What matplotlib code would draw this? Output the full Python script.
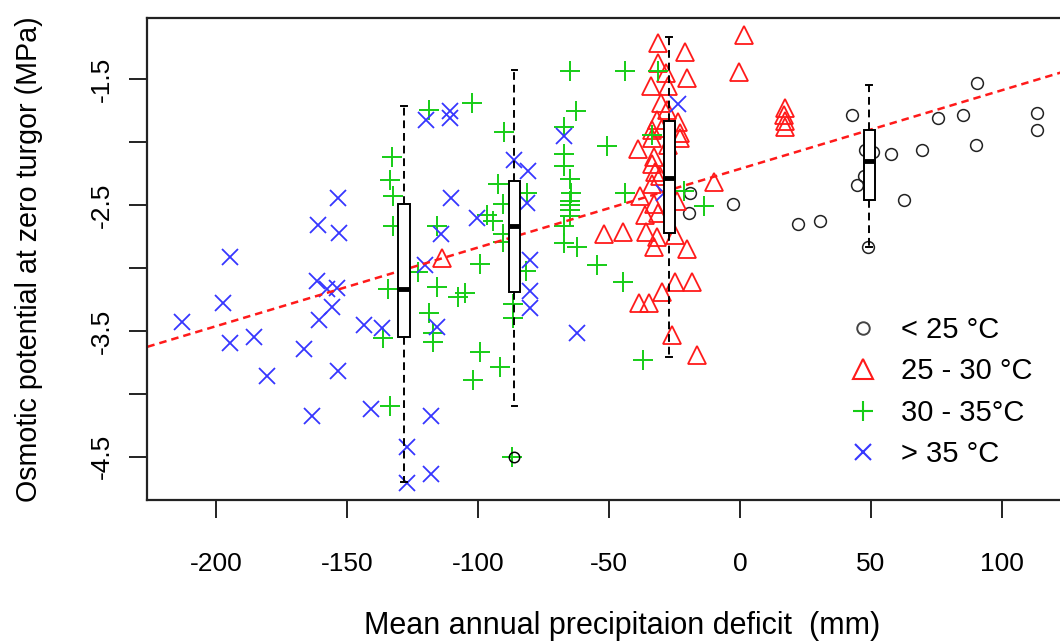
import matplotlib.pyplot as plt
from matplotlib.lines import Line2D

plt.rcParams['font.family'] = ['Liberation Sans', 'DejaVu Sans']

# < 25 °C
cool_x = [-19.0, -19.4, -2.6, 42.7, 75.8, 85.1, 90.7, 113.4, 113.4, 90.2,
          69.5, 57.6, 50.9, 44.7, 62.5, 30.6, 22.1, 48.9, 47.6, 47.4]
cool_y = [-2.40, -2.56, -2.49, -1.78, -1.81, -1.78, -1.53, -1.77, -1.90, -2.02,
          -2.06, -2.09, -2.08, -2.34, -2.46, -2.63, -2.65, -2.83, -2.06, -2.27]

# 25 - 30 °C
warm_x = [-31.1, -20.9, 1.6, -0.2, -31.1, -28.2, -20.3, -33.8, -27.3, -27.9,
          -31.7, -23.5, -33.7, -29.8, -22.8, -33.7, -22.8, -38.8, -33.0, -33.7,
          -32.4, -30.5, -33.5, -9.9, -38.1, -33.0, -24.1, -31.1, -51.9, -44.5,
          -36.0, -31.7, -24.8, -32.8, -20.3, -24.8, -18.4, -29.8, -38.5, -34.8,
          -26.0, -16.5, -113.9, 17.3, 16.7, 17.3, 17.3, -30.1, -27.4, -36.2]
warm_y = [-1.21, -1.28, -1.15, -1.44, -1.37, -1.45, -1.49, -1.55, -1.55, -1.74,
          -1.82, -1.84, -1.90, -1.89, -1.93, -1.97, -1.97, -2.05, -2.12, -2.17,
          -2.24, -2.27, -2.33, -2.32, -2.43, -2.49, -2.47, -2.56, -2.73, -2.71,
          -2.71, -2.75, -2.74, -2.83, -2.85, -3.11, -3.11, -3.19, -3.28, -3.28,
          -3.53, -3.69, -2.92, -1.73, -1.78, -1.83, -1.88, -1.69, -2.02, -2.58]

# 30 - 35 °C
hot_x = [-118.6, -132.7, -133.6, -132.6, -132.5, -115.8, -122.8, -115.8, -134.5, -107.5,
         -118.6, -136.4, -117.1, -117.1, -133.6, -102.3, -90.0, -64.9, -43.7, -31.4,
         -62.6, -67.2, -50.8, -33.7, -67.2, -67.2, -64.9, -64.5, -64.9, -64.9,
         -64.9, -64.9, -67.3, -67.2, -62.4, -43.9, -92.3, -81.5, -90.3, -96.7,
         -94.3, -90.6, -90.4, -21.3, -13.9, -99.4, -81.6, -54.4, -44.6, -105.0,
         -86.6, -86.6, -99.2, -91.6, -101.8, -36.9, -87.1]
hot_y = [-1.74, -2.12, -2.30, -2.43, -2.67, -2.67, -3.03, -3.15, -3.17, -3.23,
         -3.36, -3.56, -3.52, -3.59, -4.10, -1.69, -1.92, -1.43, -1.43, -1.43,
         -1.75, -1.88, -2.03, -1.94, -2.09, -2.19, -2.29, -2.40, -2.47, -2.50,
         -2.54, -2.59, -2.67, -2.80, -2.83, -2.40, -2.33, -2.40, -2.49, -2.58,
         -2.63, -2.73, -2.79, -2.39, -2.51, -2.97, -3.02, -2.98, -3.11, -3.20,
         -3.29, -3.40, -3.67, -3.79, -3.89, -3.73, -4.50]

# > 35 °C
hottest_x = [-119.9, -110.7, -110.7, -110.4, -153.6, -161.2, -153.0, -114.1, -194.7, -197.5,
             -212.9, -194.7, -185.6, -180.7, -161.6, -157.8, -154.0, -155.9, -160.7, -166.4,
             -153.6, -163.5, -143.5, -136.6, -141.0, -120.2, -115.8, -118.0, -118.0, -127.2,
             -127.2, -86.4, -81.1, -81.2, -100.5, -67.3, -23.5, -29.0, -80.1, -80.1,
             -80.1, -62.3]
hottest_y = [-1.82, -1.75, -1.81, -2.44, -2.44, -2.66, -2.72, -2.73, -2.91, -3.28,
             -3.43, -3.60, -3.55, -3.86, -3.10, -3.17, -3.16, -3.31, -3.41, -3.64,
             -3.82, -4.18, -3.45, -3.48, -4.12, -2.98, -3.47, -4.18, -4.64, -4.42,
             -4.71, -2.14, -2.23, -2.48, -2.60, -1.95, -1.70, -2.40, -2.94, -3.18,
             -3.32, -3.52]

group_labels = ['< 25 °C', '25 - 30 °C', '30 - 35°C', '> 35 °C']

# box summaries of each group, same order as group_labels
box_pos = [49.4, -27.0, -86.1, -128.3]
box_whislo = [-2.83, -3.71, -4.10, -4.70]
box_q1 = [-2.46, -2.72, -3.19, -3.55]
box_med = [-2.15, -2.285, -2.67, -3.17]
box_q3 = [-1.90, -1.83, -2.31, -2.49]
box_whishi = [-1.545, -1.166, -1.426, -1.712]
box_fliers = [[], [], [-4.5], []]

# linear fit drawn across the whole plot
fit_intercept = -2.212
fit_slope = 0.00625

x_ticks = [-200, -150, -100, -50, 0, 50, 100]
x_tick_labels = ['-200', '-150', '-100', '-50', '0', '50', '100']
y_ticks = [-1.5, -2.0, -2.5, -3.0, -3.5, -4.0, -4.5]
y_tick_labels = ['-1.5', '', '-2.5', '', '-3.5', '', '-4.5']

red = '#ff1a1a'
green = '#16cc16'
blue = '#3636ff'

fig = plt.figure(figsize=(10.6, 6.42), dpi=100)
ax = fig.add_axes([0.139, 0.2212, 0.896, 0.7503])

ax.plot(cool_x, cool_y, ls='none', marker='o', mfc='none', mec='#222222', ms=8.5, mew=1.1, zorder=2)
ax.plot(warm_x, warm_y, ls='none', marker='^', mfc='none', mec=red, ms=12.5, mew=1.3, zorder=2)
ax.plot(hot_x, hot_y, ls='none', marker='+', mec=green, ms=14, mew=1.4, zorder=2)
ax.plot(hottest_x, hottest_y, ls='none', marker='x', mec=blue, ms=11, mew=1.3, zorder=2)

ax.axline((0, fit_intercept), slope=fit_slope, color=red, lw=1.8,
          linestyle=(0, (3, 2)), zorder=2.5)

stats = []
for i in range(len(box_pos)):
    stats.append(dict(med=box_med[i], q1=box_q1[i], q3=box_q3[i],
                      whislo=box_whislo[i], whishi=box_whishi[i], fliers=box_fliers[i]))
ax.bxp(stats, positions=box_pos, widths=4.3, capwidths=2.2, patch_artist=True,
       showfliers=True, manage_ticks=False, zorder=3,
       boxprops=dict(facecolor='white', edgecolor='black', linewidth=1.4),
       medianprops=dict(color='black', linewidth=3.5, solid_capstyle='butt'),
       whiskerprops=dict(color='black', linewidth=1.4, linestyle=(0, (4, 2.5))),
       capprops=dict(color='black', linewidth=1.4),
       flierprops=dict(marker='o', mfc='none', mec='black', ms=7.5, mew=1.1))

ax.set_xlim(-226.3, 136.4)
ax.set_ylim(-4.844, -1.015)
ax.set_xticks(x_ticks)
ax.set_xticklabels(x_tick_labels)
ax.set_yticks(y_ticks)
ax.set_yticklabels(y_tick_labels, rotation=90, va='center')
ax.tick_params(axis='both', direction='out', length=13, width=1.4, labelsize=19, color='#222222')
ax.tick_params(axis='x', pad=24.5)
ax.tick_params(axis='y', pad=11)
for sp in ax.spines.values():
    sp.set_linewidth(1.6)
    sp.set_color('#222222')

ax.set_xlabel('Mean annual precipitaion deficit  (mm)', fontsize=22)
ax.xaxis.set_label_coords(0.5, -0.2304)
ax.set_ylabel('Osmotic potential at zero turgor (MPa)', fontsize=20.6)
ax.yaxis.set_label_coords(-0.1098, 0.5)

handles = [
    Line2D([], [], ls='none', marker='o', mfc='none', mec='#444444', ms=9, mew=1.4),
    Line2D([], [], ls='none', marker='^', mfc='none', mec=red, ms=14, mew=1.5),
    Line2D([], [], ls='none', marker='+', mec=green, ms=15, mew=1.5),
    Line2D([], [], ls='none', marker='x', mec=blue, ms=12, mew=1.5),
]
ax.legend(handles, group_labels, loc='upper left', bbox_to_anchor=(0.738, 0.382),
          frameon=False, fontsize=21, borderpad=0, borderaxespad=0,
          handlelength=1.0, handletextpad=0.8, labelspacing=0.46)

fig.savefig('out.png', dpi=100)
